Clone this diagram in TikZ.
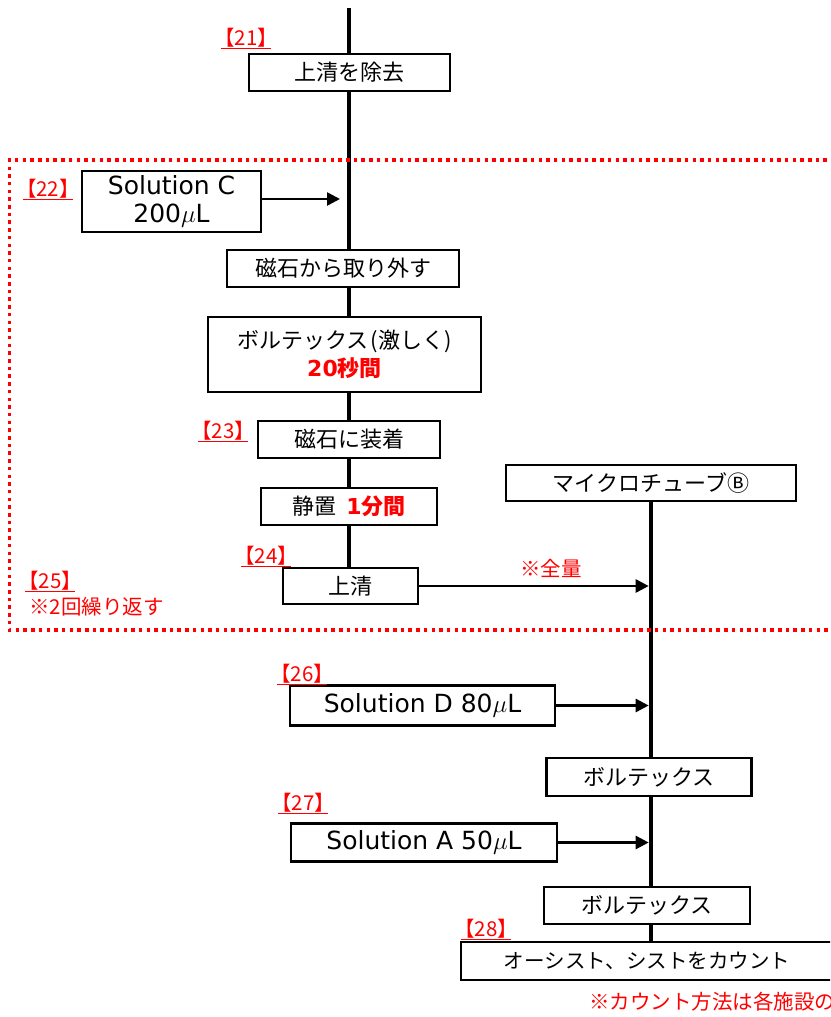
\documentclass[tikz,border=0pt]{standalone}
\usepackage{fontspec}
\setmainfont{Noto Sans CJK JP}
\newfontfamily\lat{DejaVu Sans}
\usetikzlibrary{arrows.meta,positioning,backgrounds}

\tikzset{
  stepbox/.style={draw, line width=2.6pt, fill=white, inner sep=0pt,
    minimum height=37pt, align=center, font=\fontsize{22}{28}\selectfont},
  tag/.style={text=red, inner sep=0pt, font=\fontsize{20.5}{23}\selectfont},
  stepno/.style={tag, text depth=0pt,
    append after command={([xshift=7pt,yshift=-3pt]\tikzlastnode.south west)
      edge[red, line width=1pt] ([xshift=-7pt,yshift=-3pt]\tikzlastnode.south east)}},
  flow/.style={line width=4.6pt},
  feed/.style={line width=2.6pt, -{Triangle[length=13pt,width=13pt]}},
}
\newcommand{\hot}[1]{\textcolor{red}{\textbf{#1}}}
\newcommand{\sol}[1]{{\lat\fontsize{25}{28}\selectfont #1}}

\begin{document}
\begin{tikzpicture}[x=1pt,y=-1pt]
  \useasboundingbox (0,0) rectangle (830,1017);
  \clip (0,0) rectangle (830,1017);
  % repeated block
  \draw[red, line width=3.5pt, dash pattern=on 3.5pt off 4.2pt] (850,160) -- (9.5,160) -- (9.5,630) -- (850,630);

  % left column
  \coordinate (top) at (349,8);
  \node[stepbox, minimum width=201pt] (remove) at (349.5,72.5) {上清を除去};
  \node[stepbox, minimum width=179pt, minimum height=61pt] (solC) at (171.5,201.5) {\sol{Solution C}\\\sol{200$\mu$L}};
  \node[stepbox, minimum width=232pt] (detach) at (343,268.5) {磁石から取り外す};
  \node[stepbox, minimum width=273pt, minimum height=75pt] (vortexA) at (344.5,354.5) {ボルテックス\hspace{2pt}(激しく)\\\hot{{\lat 20}秒間}};
  \node[stepbox, minimum width=182pt] (attach) at (349,439.5) {磁石に装着};
  \node[stepbox, minimum width=176pt] (stand) at (349,506.5) {静置\ \ \hot{{\lat 1}分間}};
  \node[stepbox, minimum width=135pt, minimum height=36pt] (super) at (350.5,586) {上清};

  % right column
  \node[stepbox, minimum width=290pt, minimum height=36pt] (tubeB) at (651,483) {マイクロチューブⒷ};
  \node[stepbox, minimum width=265pt, minimum height=40pt] (solD) at (422.5,705.5) {\sol{Solution D 80$\mu$L}};
  \node[stepbox, minimum width=205pt, minimum height=38pt] (vortexB) at (649,777) {ボルテックス};
  \node[stepbox, minimum width=266pt, minimum height=38pt] (solA) at (424,842.5) {\sol{Solution A 50$\mu$L}};
  \node[stepbox, minimum width=206pt] (vortexC) at (647,905.5) {ボルテックス};
  \node[stepbox, minimum width=372pt, minimum height=38pt, font=\fontsize{20.5}{24}\selectfont] (count) at (647,961) {オーシスト、シストをカウント};

  % step numbers
  \node[stepno] (t21) at (246,37) {【21】};
  \node[stepno] (t22) at (48,188) {【22】};
  \node[stepno] (t23) at (223,430) {【23】};
  \node[stepno] (t24) at (266,555) {【24】};
  \node[stepno] (t25) at (50,580) {【25】};
  \node[tag, anchor=west] (rep) at (29,607) {※2回繰り返す};
  \node[stepno] (t26) at (302,673) {【26】};
  \node[stepno] (t27) at (303,802) {【27】};
  \node[stepno] (t28) at (486,928) {【28】};
  \node[tag] (all) at (551,568) {※全量};
  \node[tag, anchor=west] (note) at (589,1002) {※カウント方法は各施設の手順};

  \begin{scope}[on background layer]
    \draw[flow] (top) -- (top |- super.north);
    \draw[flow] (tubeB.south) -- (tubeB.south |- count.north);
  \end{scope}

  \coordinate (inC) at (340,199);
  \draw[feed] (solC.east |- inC) -- (inC);
  \draw[feed, shorten >=2.3pt] (super.east) -- (tubeB.south |- super.east);
  \draw[feed, shorten >=2.3pt] (solD.east) -- (tubeB.south |- solD.east);
  \draw[feed, shorten >=2.3pt] (solA.east) -- (tubeB.south |- solA.east);
\end{tikzpicture}
\end{document}
